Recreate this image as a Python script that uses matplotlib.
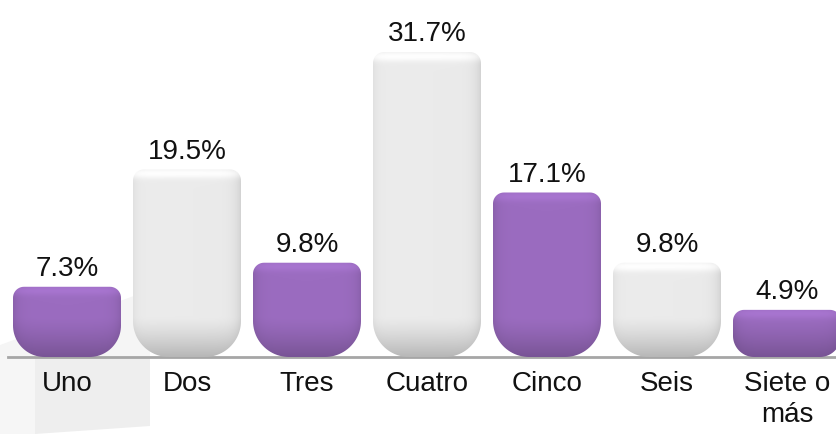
import numpy as np
import matplotlib.pyplot as plt
from matplotlib.path import Path
from matplotlib.patches import PathPatch, Polygon
from matplotlib.colors import to_rgb

categories = ["Uno", "Dos", "Tres", "Cuatro", "Cinco", "Seis", "Siete o\nmás"]
values = [7.3, 19.5, 9.8, 31.7, 17.1, 9.8, 4.9]
labels = ["7.3%", "19.5%", "9.8%", "31.7%", "17.1%", "9.8%", "4.9%"]
colors = ["#9b6cc0", "#ebebeb", "#9b6cc0", "#ebebeb", "#9b6cc0", "#ebebeb", "#9b6cc0"]

plt.rcParams['font.family'] = ['Liberation Sans', 'DejaVu Sans']

W, H = 836, 434
fig = plt.figure(figsize=(W / 100, H / 100), dpi=100)
ax = fig.add_axes([0, 0, 1, 1])
ax.set_xlim(-67 / 120, (W - 67) / 120)
ax.set_ylim(-77 / 9.62, (H - 77) / 9.62)
ax.axis('off')

# pixels per data unit
px_x = W / (ax.get_xlim()[1] - ax.get_xlim()[0])
px_y = H / (ax.get_ylim()[1] - ax.get_ylim()[0])


def px2fig(pts):
    return [(x / W, 1 - y / H) for x, y in pts]


# faint decorative background at lower left
for pts, fc in [([(0, 345), (150, 290), (150, 357), (0, 357)], "#f5f5f5"),
                ([(0, 357), (35, 357), (35, 434), (0, 434)], "#f6f6f6"),
                ([(35, 357), (150, 357), (150, 426), (35, 434)], "#eeeeee")]:
    ax.add_patch(Polygon(px2fig(pts), closed=True, transform=fig.transFigure,
                         fc=fc, ec="none", zorder=0))

ax.axhline(0, xmin=8 / W, xmax=1, color="#a6a6a6", lw=2, zorder=1)


def bar_path(x0, x1, h, rt, rb):
    rtx, rty = rt / px_x, rt / px_y
    rbx, rby = rb / px_x, rb / px_y
    pts = []
    t = np.linspace(np.pi, np.pi / 2, 12)
    pts += list(zip(x0 + rtx + rtx * np.cos(t), h - rty + rty * np.sin(t)))
    t = np.linspace(np.pi / 2, 0, 12)
    pts += list(zip(x1 - rtx + rtx * np.cos(t), h - rty + rty * np.sin(t)))
    t = np.linspace(0, -np.pi / 2, 24)
    pts += list(zip(x1 - rbx + rbx * np.cos(t), rby + rby * np.sin(t)))
    t = np.linspace(-np.pi / 2, -np.pi, 24)
    pts += list(zip(x0 + rbx + rbx * np.cos(t), rby + rby * np.sin(t)))
    pts.append(pts[0])
    return Path(pts, closed=True)


def shading(base, hpx, wpx, purple):
    ny, nx = max(int(hpx), 2), max(int(wpx), 2)
    yy = np.linspace(0, hpx, ny)[:, None]          # distance from top
    xx = np.linspace(0, wpx, nx)[None, :]
    dside = np.minimum(xx, wpx - xx)
    c = np.array(to_rgb(base))[None, None, :] * np.ones((ny, nx, 1))
    f = np.ones((ny, nx))
    # top highlight band
    f += 0.08 * np.exp(-((yy - 4) / 5.0) ** 2) * np.ones_like(xx)
    # side darkening
    f -= 0.10 * np.exp(-dside / 6.0)
    # bottom darkening
    frac = 1 - (hpx - yy) / min(hpx, 40.0)
    frac = np.clip(frac, 0, 1)
    f -= (0.22 if purple else 0.22) * frac ** 1.3
    if not purple:
        f += 0.06 * np.exp(-xx / 8.0)
    c = np.clip(c * f[:, :, None], 0, 1)
    return c


width = 0.9
for i, (v, col) in enumerate(zip(values, colors)):
    x0, x1 = i - width / 2, i + width / 2
    hpx = v * px_y
    rb = min(36, 0.45 * hpx)
    path = bar_path(x0, x1, v, 11, rb)
    patch = PathPatch(path, fc="none", ec="none", zorder=2)
    ax.add_patch(patch)
    img = shading(col, hpx, width * px_x, col != "#ebebeb")
    im = ax.imshow(img, extent=(x0, x1, 0, v), origin="upper", aspect="auto",
                   interpolation="bilinear", zorder=2)
    im.set_clip_path(patch)
    ax.annotate(labels[i], (i, v), xytext=(0, 3.5), textcoords="offset points",
                ha="center", va="bottom", fontsize=20, color="#111111", zorder=3)
    ax.annotate(categories[i], (i, 0), xytext=(0, -10), textcoords="offset points",
                ha="center", va="top", fontsize=20, color="#111111",
                linespacing=1.25, zorder=3)

fig.savefig("out.png", dpi=100)
